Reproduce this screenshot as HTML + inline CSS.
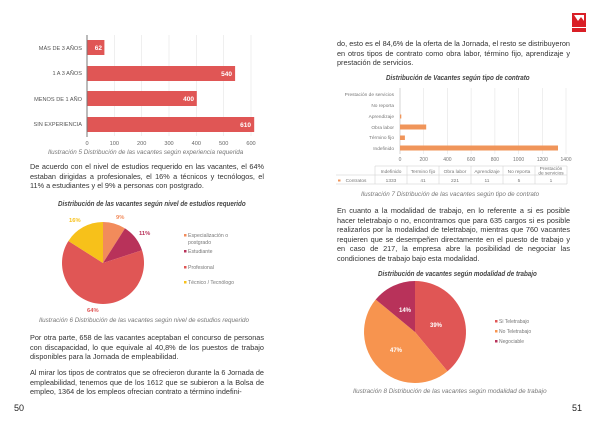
<!DOCTYPE html>
<html><head><meta charset="utf-8"><style>
html,body{margin:0;padding:0;width:600px;height:425px;background:#fff;overflow:hidden}
body{position:relative;font-family:"Liberation Sans",sans-serif;color:#333}
.t{position:absolute;white-space:nowrap}
.p{position:absolute;font-size:7.3px;line-height:9.6px;color:#333;text-align:justify}
.cap{position:absolute;font-size:6.3px;font-style:italic;color:#777;white-space:nowrap}
.ttl{position:absolute;font-size:7.2px;font-style:italic;color:#444;white-space:nowrap;font-weight:bold;transform:scaleX(0.87);transform-origin:left top}
svg{position:absolute;left:0;top:0}
</style></head><body>
<svg width="600" height="425" viewBox="0 0 600 425" font-family="Liberation Sans, sans-serif">
<g stroke="#e4e4e4" stroke-width="0.6">
<line x1="114.3" y1="35" x2="114.3" y2="136"/><line x1="141.7" y1="35" x2="141.7" y2="136"/>
<line x1="169" y1="35" x2="169" y2="136"/><line x1="196.3" y1="35" x2="196.3" y2="136"/>
<line x1="223.7" y1="35" x2="223.7" y2="136"/><line x1="251" y1="35" x2="251" y2="136"/>
</g>
<line x1="87" y1="35" x2="87" y2="137" stroke="#555" stroke-width="0.8"/>
<g fill="#e05655">
<rect x="87.5" y="40" width="16.9" height="15"/>
<rect x="87.5" y="66" width="147.6" height="15"/>
<rect x="87.5" y="91" width="109.3" height="15"/>
<rect x="87.5" y="117" width="166.7" height="15"/>
</g>
<g fill="#fff" font-size="6.5" font-weight="bold" text-anchor="end">
<text x="102" y="50">62</text><text x="232" y="76">540</text><text x="194" y="101">400</text><text x="251" y="127">610</text>
</g>
<g fill="#555" font-size="5.6" text-anchor="end">
<text x="82" y="50">MÁS DE 3 AÑOS</text><text x="82" y="75">1 A 3 AÑOS</text><text x="82" y="101">MENOS DE 1 AÑO</text><text x="82" y="126">SIN EXPERIENCIA</text>
</g>
<g fill="#666" font-size="5.6" text-anchor="middle">
<text x="87" y="145">0</text><text x="114.3" y="145">100</text><text x="141.7" y="145">200</text><text x="169" y="145">300</text><text x="196.3" y="145">400</text><text x="223.7" y="145">500</text><text x="251" y="145">600</text>
</g>
<path d="M103,263 L103,222 A41,41 0 0 1 125,228.4 Z" fill="#f28b5b"/>
<path d="M103,263 L125,228.4 A41,41 0 0 1 142,250.3 Z" fill="#b8325a"/>
<path d="M103,263 L142,250.3 A41,41 0 1 1 68.4,241 Z" fill="#e05655"/>
<path d="M103,263 L68.4,241 A41,41 0 0 1 103,222 Z" fill="#f7c11a"/>
<g font-size="5.8" font-weight="bold">
<text x="116" y="219" fill="#f28b5b">9%</text><text x="139" y="235" fill="#b8325a">11%</text>
<text x="87" y="312" fill="#e05655">64%</text><text x="69" y="222" fill="#f7c11a">16%</text>
</g>
<g font-size="5.2" fill="#777">
<rect x="184" y="234" width="2.5" height="2.5" fill="#f28b5b"/><text x="188" y="237">Especialización o</text><text x="188" y="244">postgrado</text>
<rect x="184" y="250" width="2.5" height="2.5" fill="#b8325a"/><text x="188" y="253">Estudiante</text>
<rect x="184" y="266" width="2.5" height="2.5" fill="#e05655"/><text x="188" y="269">Profesional</text>
<rect x="184" y="281" width="2.5" height="2.5" fill="#f7c11a"/><text x="188" y="284">Técnico / Tecnólogo</text>
</g>
<g stroke="#e4e4e4" stroke-width="0.6">
<line x1="423.7" y1="88" x2="423.7" y2="154"/><line x1="447.4" y1="88" x2="447.4" y2="154"/><line x1="471.1" y1="88" x2="471.1" y2="154"/>
<line x1="494.9" y1="88" x2="494.9" y2="154"/><line x1="518.6" y1="88" x2="518.6" y2="154"/><line x1="542.3" y1="88" x2="542.3" y2="154"/><line x1="566" y1="88" x2="566" y2="154"/>
</g>
<line x1="400" y1="88" x2="400" y2="154" stroke="#bbb" stroke-width="0.6"/>
<g fill="#f0955a">
<rect x="400" y="114.5" width="1.3" height="4"/>
<rect x="400" y="124.5" width="26.2" height="5"/>
<rect x="400" y="135.5" width="4.9" height="4.5"/>
<rect x="400" y="145.5" width="158" height="5"/>
</g>
<g fill="#777" font-size="4.8" text-anchor="end">
<text x="394" y="96">Prestación de servicios</text><text x="394" y="107">No reporta</text><text x="394" y="118">Aprendizaje</text>
<text x="394" y="129">Obra labor</text><text x="394" y="139">Término fijo</text><text x="394" y="150">Indefinido</text>
</g>
<g fill="#777" font-size="5" text-anchor="middle">
<text x="400" y="161">0</text><text x="423.7" y="161">200</text><text x="447.4" y="161">400</text><text x="471.1" y="161">600</text><text x="494.9" y="161">800</text><text x="518.6" y="161">1000</text><text x="542.3" y="161">1200</text><text x="566" y="161">1400</text>
</g>
<g stroke="#ccc" stroke-width="0.5" fill="none">
<line x1="375" y1="166" x2="567" y2="166"/><line x1="336" y1="175" x2="567" y2="175"/><line x1="336" y1="184" x2="567" y2="184"/>
<line x1="375" y1="166" x2="375" y2="184"/><line x1="407" y1="166" x2="407" y2="184"/><line x1="439" y1="166" x2="439" y2="184"/><line x1="471" y1="166" x2="471" y2="184"/><line x1="503" y1="166" x2="503" y2="184"/><line x1="535" y1="166" x2="535" y2="184"/><line x1="567" y1="166" x2="567" y2="184"/>
</g>
<g fill="#777" font-size="4.8" text-anchor="middle">
<text x="391" y="173">Indefinido</text><text x="423" y="173">Termino fijo</text><text x="455" y="173">Obra labor</text><text x="487" y="173">Aprendizaje</text><text x="519" y="173">No reporta</text><text x="551" y="170">Prestación</text><text x="551" y="174.5">de servicios</text>
<text x="391" y="182">1333</text><text x="423" y="182">41</text><text x="455" y="182">221</text><text x="487" y="182">11</text><text x="519" y="182">5</text><text x="551" y="182">1</text>
<text x="356" y="182">Contratos</text>
</g>
<rect x="338" y="179.5" width="2.5" height="2" fill="#f0955a"/>
<path d="M415,332 L415,281 A51,51 0 0 1 447.5,371.3 Z" fill="#e05655"/>
<path d="M415,332 L447.5,371.3 A51,51 0 0 1 375.7,299.5 Z" fill="#f7944f"/>
<path d="M415,332 L375.7,299.5 A51,51 0 0 1 415,281 Z" fill="#b8325a"/>
<g fill="#fff" font-size="6" font-weight="bold">
<text x="430" y="327">39%</text><text x="390" y="352">47%</text><text x="399" y="312">14%</text>
</g>
<g font-size="5" fill="#777">
<rect x="495" y="320" width="2.5" height="2.5" fill="#e05655"/><text x="499" y="323">Si Teletrabajo</text>
<rect x="495" y="330" width="2.5" height="2.5" fill="#f7944f"/><text x="499" y="333">No Teletrabajo</text>
<rect x="495" y="340" width="2.5" height="2.5" fill="#b8325a"/><text x="499" y="343">Negociable</text>
</g>
<rect x="572" y="13" width="14" height="14" fill="#d91f26"/>
<path d="M574,15 L578,21 L581,17 L584,21 L584,15 Z" fill="#fff"/>
<rect x="572" y="28" width="14" height="4" fill="#d91f26"/>
</svg>
<div class="cap" style="left:48px;top:149px">Ilustración 5 Distribución de las vacantes según experiencia requerida</div>
<div class="p" style="left:30px;top:162px;width:234px">De acuerdo con el nivel de estudios requerido en las vacantes, el 64% estaban dirigidas a profesionales, el 16% a técnicos y tecnólogos, el 11% a estudiantes y el 9% a personas con postgrado.</div>
<div class="ttl" style="left:58px;top:199px">Distribución de las vacantes según nivel de estudios requerido</div>
<div class="cap" style="left:39px;top:317px">Ilustración 6 Distribución de las vacantes según nivel de estudios requerido</div>
<div class="p" style="left:30px;top:333px;width:234px">Por otra parte, 658 de las vacantes aceptaban el concurso de personas con discapacidad, lo que equivale al 40,8% de los puestos de trabajo disponibles para la Jornada de empleabilidad.</div>
<div class="p" style="left:30px;top:368px;width:234px">Al mirar los tipos de contratos que se ofrecieron durante la 6 Jornada de empleabilidad, tenemos que de los 1612 que se subieron a la Bolsa de empleo, 1364 de los empleos ofrecian contrato a término indefini-</div>
<div class="t" style="left:14px;top:403px;font-size:9px;color:#222">50</div>
<div class="p" style="left:337px;top:39px;width:233px">do, esto es el 84,6% de la oferta de la Jornada, el resto se distribuyeron en otros tipos de contrato como obra labor, término fijo, aprendizaje y prestación de servicios.</div>
<div class="ttl" style="left:386px;top:73px">Distribución de Vacantes según tipo de contrato</div>
<div class="cap" style="left:361px;top:191px">Ilustración 7 Distribución de las vacantes según tipo de contrato</div>
<div class="p" style="left:337px;top:206px;width:233px">En cuanto a la modalidad de trabajo, en lo referente a si es posible hacer teletrabajo o no, encontramos que para 635 cargos si es posible realizarlos por la modalidad de teletrabajo, mientras que 760 vacantes requieren que se desempeñen directamente en el puesto de trabajo y en caso de 217, la empresa abre la posibilidad de negociar las condiciones de trabajo bajo esta modalidad.</div>
<div class="ttl" style="left:378px;top:269px">Distribución de vacantes según modalidad de trabajo</div>
<div class="cap" style="left:353px;top:388px">Ilustración 8 Distribución de las vacantes según modalidad de trabajo</div>
<div class="t" style="left:572px;top:403px;font-size:9px;color:#222">51</div>
</body></html>
